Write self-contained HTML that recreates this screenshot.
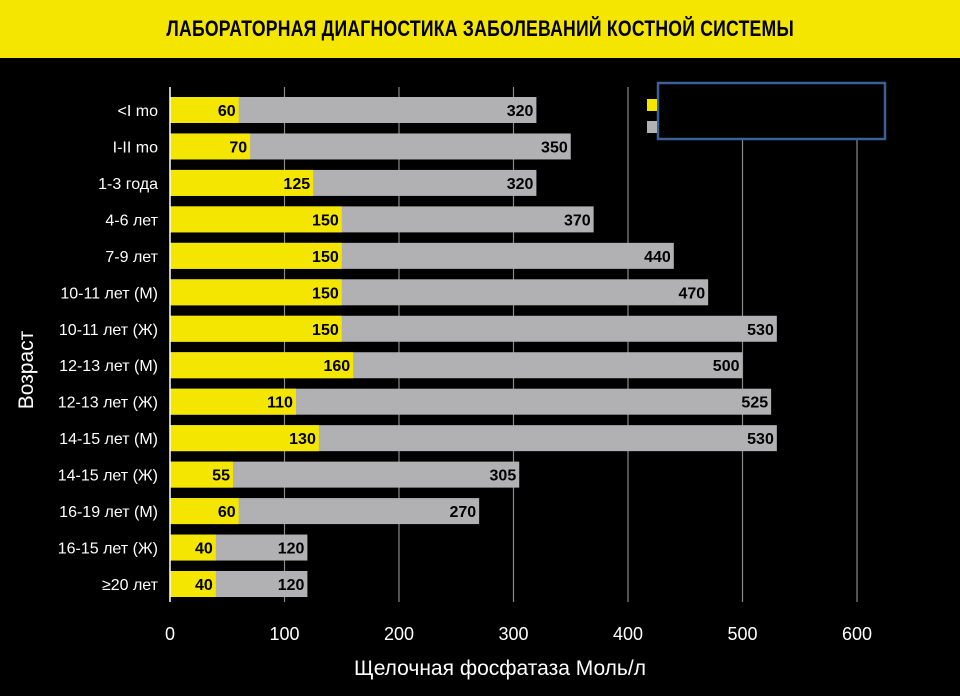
<!DOCTYPE html>
<html><head><meta charset="utf-8"><style>
body{margin:0;background:#000;width:960px;height:696px;overflow:hidden;font-family:"Liberation Sans",sans-serif}
#title{position:absolute;left:0;top:0;width:960px;height:58px;background:#f4e600;display:flex;align-items:center;justify-content:center}
#title span{font-weight:bold;font-size:22px;color:#000;transform:scaleX(0.8);white-space:nowrap;letter-spacing:0.3px}
</style></head><body>
<div id="title"><span>ЛАБОРАТОРНАЯ ДИАГНОСТИКА ЗАБОЛЕВАНИЙ КОСТНОЙ СИСТЕМЫ</span></div>
<svg id="chart" width="960" height="696" style="position:absolute;left:0;top:0"></svg>
<script>
const categories=["<I mo","I-II mo","1-3 года","4-6 лет","7-9 лет","10-11 лет (М)","10-11 лет (Ж)","12-13 лет (М)","12-13 лет (Ж)","14-15 лет (М)","14-15 лет (Ж)","16-19 лет (М)","16-15 лет (Ж)","≥20 лет"];
const minValues=[60,70,125,150,150,150,150,160,110,130,55,60,40,40];
const maxValues=[320,350,320,370,440,470,530,500,525,530,305,270,120,120];
const xTicks=[0,100,200,300,400,500,600];
const NS="http://www.w3.org/2000/svg";
const svg=document.getElementById('chart');
const x0=170,x1=857,xMax=600;
const xs=v=>x0+(x1-x0)*v/xMax;
const yTop=110,yStep=(584-110)/13;
const ys=i=>yTop+i*yStep;
const barH=26;
function mk(t,a){const e=document.createElementNS(NS,t);for(const k in a)e.setAttribute(k,a[k]);svg.appendChild(e);return e;}
xTicks.forEach(t=>{
  if(t>0){const g=mk('line',{x1:xs(t),x2:xs(t),y1:87,y2:602,stroke:'#8a8a8a','stroke-width':1.2});
  
  }
  const l=mk('text',{x:xs(t),y:640,fill:'#fff','font-size':18,'text-anchor':'middle'});
  l.textContent=t;
  
  
});
categories.forEach((c,i)=>{
  const y=ys(i);
  const g=mk('rect',{x:xs(0),y:y-barH/2,width:xs(maxValues[i])-xs(0),height:barH,fill:'#b1b0b3'});
  
  
  const yb=mk('rect',{x:xs(0),y:y-barH/2,width:xs(minValues[i])-xs(0),height:barH,fill:'#f5e600'});
  
  
  const t1=mk('text',{x:xs(minValues[i])-3,y:y+6,fill:'#000','font-size':16,'font-weight':'bold','text-anchor':'end'});
  t1.textContent=minValues[i];
  
  
  const t2=mk('text',{x:xs(maxValues[i])-3,y:y+6,fill:'#000','font-size':16,'font-weight':'bold','text-anchor':'end'});
  t2.textContent=maxValues[i];
  
  
  const cl=mk('text',{x:158,y:y+6,fill:'#fff','font-size':16,'text-anchor':'end'});
  cl.textContent=c;
  
  
});
const ax=mk('line',{x1:x0,x2:x0,y1:87,y2:602,stroke:'#fff','stroke-width':1.5});


const xt=mk('text',{x:500,y:675,fill:'#fff','font-size':21,'text-anchor':'middle'});
xt.textContent='Щелочная фосфатаза Моль/л';


const yt=mk('text',{x:0,y:0,fill:'#fff','font-size':21,'text-anchor':'middle',transform:'translate(33,370) rotate(-90)'});
yt.textContent='Возраст';


const lb=mk('rect',{x:658,y:83,width:227,height:56,fill:'#000',stroke:'#3d5f96','stroke-width':2.5});


const ly=mk('rect',{x:647,y:99,width:10,height:12,fill:'#f5e600'});


const lg=mk('rect',{x:647,y:121,width:10,height:12,fill:'#b1b0b3'});


</script>
</body></html>
